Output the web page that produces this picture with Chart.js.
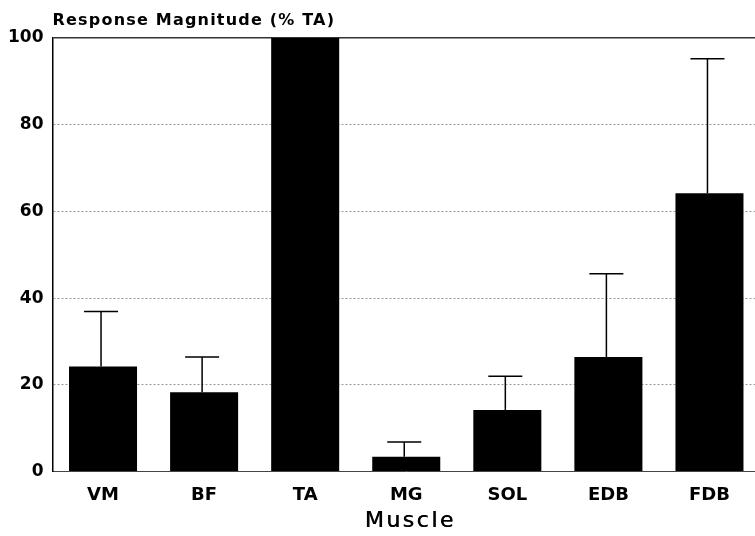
<!DOCTYPE html>
<html>
<head>
<meta charset="utf-8">
<script src="https://cdn.jsdelivr.net/npm/chart.js@4/dist/chart.umd.min.js"></script>
<style>
  html, body { margin: 0; padding: 0; background: #fff; overflow: hidden; width: 755px; height: 536px; }
  #wrap { width: 760px; height: 536px; }
</style>
</head>
<body>
<div id="wrap"><canvas id="c" width="760" height="536"></canvas></div>
<script>
const categories = ["VM", "BF", "TA", "MG", "SOL", "EDB", "FDB"];
const responseMean = [24.2, 18.3, 100, 3.4, 14.2, 26.4, 64.2];
const responseSD = [12.7, 8.1, 0, 3.4, 7.8, 19.2, 31.0];
const yTicks = [0, 20, 40, 60, 80, 100];
const yTitle = "Response Magnitude (% TA)";
const xTitle = "Muscle";

const FONT = "'DejaVu Sans', 'Liberation Sans', Arial, sans-serif";

const errorBars = {
  id: 'errorBars',
  afterDatasetsDraw(chart) {
    const ctx = chart.ctx;
    const meta = chart.getDatasetMeta(0);
    const ys = chart.scales.y;
    ctx.save();
    ctx.strokeStyle = '#000';
    ctx.lineWidth = 1.5;
    meta.data.forEach((bar, i) => {
      const sd = responseSD[i];
      if (!sd) return;
      const x = bar.x - 2;
      const yTop = ys.getPixelForValue(responseMean[i] + sd);
      const yBase = ys.getPixelForValue(responseMean[i]);
      ctx.beginPath();
      ctx.moveTo(x, yBase);
      ctx.lineTo(x, yTop);
      ctx.moveTo(x - 17, yTop);
      ctx.lineTo(x + 17, yTop);
      ctx.stroke();
    });
    ctx.restore();
  }
};

const titles = {
  id: 'titles',
  afterDraw(chart) {
    const ctx = chart.ctx;
    const ca = chart.chartArea;
    ctx.save();
    ctx.fillStyle = '#000';
    ctx.font = 'bold 16px ' + FONT;
    ctx.letterSpacing = '1.2px';
    ctx.textAlign = 'left';
    ctx.textBaseline = 'alphabetic';
    ctx.fillText(yTitle, ca.left, 25);
    ctx.font = '22px ' + FONT;
    ctx.letterSpacing = '2.5px';
    ctx.textAlign = 'center';
    ctx.fillText(xTitle, (ca.left + ca.right) / 2 + 4, 527);
    ctx.fillText(xTitle, (ca.left + ca.right) / 2 + 4.5, 527);
    ctx.restore();
  }
};

new Chart(document.getElementById('c'), {
  type: 'bar',
  data: {
    labels: categories,
    datasets: [{
      data: responseMean,
      backgroundColor: '#000',
      borderWidth: 0,
      barPercentage: 0.673,
      categoryPercentage: 1.0
    }]
  },
  options: {
    responsive: false,
    animation: false,
    devicePixelRatio: 1,
    layout: { padding: { top: 38, right: 0, left: 0, bottom: 0 } },
    plugins: { legend: { display: false }, tooltip: { enabled: false }, title: { display: false } },
    scales: {
      x: {
        grid: { display: false },
        border: { display: true, color: '#444', width: 1 },
        ticks: { color: '#000', font: { family: FONT, size: 18, weight: 'bold' }, padding: 5 },
        title: { display: false },
        afterFit(scale) { scale.height = 64.5; }
      },
      y: {
        min: 0, max: 100,
        afterBuildTicks(scale) { scale.ticks = yTicks.map(v => ({ value: v })); },
        grid: {
          drawTicks: false,
          color: (c) => c.tick && c.tick.value === 100 ? '#333' : (c.tick && c.tick.value === 0 ? 'rgba(0,0,0,0)' : '#999'),
          lineWidth: (c) => c.tick && c.tick.value === 100 ? 1.5 : 1
        },
        border: { display: true, color: '#000', width: 1.5, dash: (c) => (c.tick && (c.tick.value === 100 || c.tick.value === 0)) ? [] : [2, 2] },
        ticks: { color: '#000', font: { family: FONT, size: 17, weight: 'bold' }, padding: 9 },
        afterFit(scale) { scale.width = 52.5; }
      }
    }
  },
  plugins: [errorBars, titles]
});
</script>
</body>
</html>
